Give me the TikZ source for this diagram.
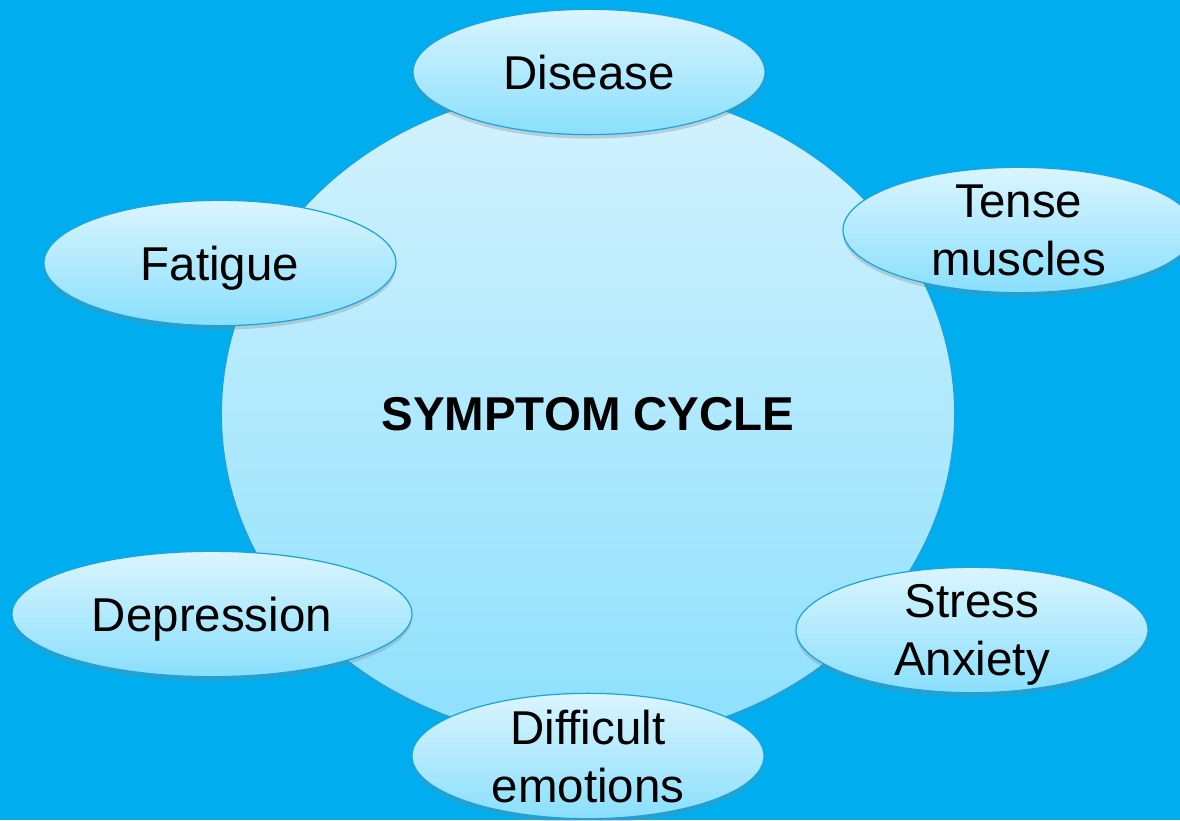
\documentclass[tikz,border=0pt]{standalone}
\usepackage{fontspec}
\setmainfont{Liberation Sans}
\usepackage{xcolor}
\usetikzlibrary{shapes.geometric,shadows}
\definecolor{cyclebg}{HTML}{00AEEF}
\definecolor{cycleedge}{HTML}{1AA3DE}
\definecolor{bubbletop}{HTML}{DAF5FE}
\definecolor{bubblebot}{HTML}{8ADFFC}
\definecolor{coretop}{HTML}{D3F2FE}
\definecolor{corebot}{HTML}{8DE0FC}
\tikzset{
  cyclecore/.style={ellipse, draw=cycleedge, line width=0.9pt,
    top color=coretop, bottom color=corebot, inner sep=0pt,
    minimum width=550pt, minimum height=490pt, text depth=0pt,
    font=\fontsize{35.6}{43.5}\selectfont\bfseries,
    drop shadow={shadow xshift=0pt, shadow yshift=-2pt, opacity=0.25}},
  cyclebubble/.style={ellipse, draw=cycleedge, line width=0.9pt,
    top color=bubbletop, bottom color=bubblebot, align=center,
    inner xsep=0pt, inner ysep=-4pt, text depth=0pt,
    minimum width=264pt, minimum height=94pt,
    font=\fontsize{35.6}{43.5}\selectfont,
    drop shadow={shadow xshift=0pt, shadow yshift=-3pt, opacity=0.3}}
}
\begin{document}
\begin{tikzpicture}[x=0.75pt, y=-0.75pt]
  \useasboundingbox (0,0) rectangle (1180,820);
  \fill[cyclebg] (0,0) rectangle (1180,820);

  \node[cyclecore] (core) at (588,414) {SYMPTOM CYCLE};

  \node[cyclebubble] (disease) at (589,72) {Disease};
  \node[cyclebubble] (tense) at (1019,230) {Tense\\muscles};
  \node[cyclebubble] (stress) at (972,630) {Stress\\Anxiety};
  \node[cyclebubble] (emotions) at (588,756) {Difficult\\emotions};
  \node[cyclebubble, minimum width=300pt] (depression) at (212,614)
    {Depression};
  \node[cyclebubble] (fatigue) at (220,263) {Fatigue};
\end{tikzpicture}
\end{document}
